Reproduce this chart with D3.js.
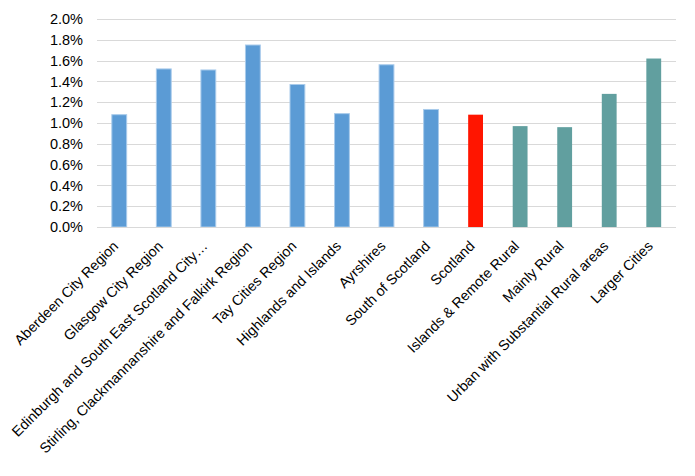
<!DOCTYPE html>
<html>
<head>
<meta charset="utf-8">
<script src="https://cdn.jsdelivr.net/npm/d3@7"></script>
<style>
  body { margin: 0; background: #fff; }
  text { font-family: "Liberation Sans", Arial, sans-serif; fill: #000; }
</style>
</head>
<body>
<div id="chart"></div>
<script>
var svgWidth = 695;
var svgHeight = 476;

var margin = { top: 19, right: 19, bottom: 249, left: 97 };
var width = svgWidth - margin.left - margin.right;
var height = svgHeight - margin.top - margin.bottom;

// data
var regions = [
  "Aberdeen City Region",
  "Glasgow City Region",
  "Edinburgh and South East Scotland City\u2026",
  "Stirling, Clackmannanshire and Falkirk Region",
  "Tay Cities Region",
  "Highlands and Islands",
  "Ayrshires",
  "South of Scotland",
  "Scotland",
  "Islands & Remote Rural",
  "Mainly Rural",
  "Urban with Substantial Rural areas",
  "Larger Cities"
];
var rates = [1.08, 1.52, 1.51, 1.75, 1.37, 1.09, 1.56, 1.13, 1.08, 0.97, 0.96, 1.28, 1.62];
var groups = ["region", "region", "region", "region", "region", "region", "region", "region",
  "scotland", "rural", "rural", "rural", "rural"];
var yTicks = [0, 0.2, 0.4, 0.6, 0.8, 1.0, 1.2, 1.4, 1.6, 1.8, 2.0];

var fillColor = { region: "#5b9bd5", scotland: "#ff1500", rural: "#619f9f" };
var strokeColor = { region: "#a9cbeb", scotland: "none", rural: "none" };

var data = regions.map((d, i) => ({ name: d, value: rates[i], group: groups[i] }));

var svg = d3
  .select("#chart")
  .append("svg")
  .attr("width", svgWidth)
  .attr("height", svgHeight);

var chartGroup = svg
  .append("g")
  .attr("transform", `translate(${margin.left}, ${margin.top})`);

var xScale = d3.scaleBand().domain(regions).range([0, width]).paddingInner(0.667).paddingOuter(0.333);
var yScale = d3.scaleLinear().domain([0, 2.0]).range([height, 0]);

// gridlines
chartGroup
  .append("g")
  .selectAll("line")
  .data(yTicks)
  .enter()
  .append("line")
  .attr("x1", 0)
  .attr("x2", width)
  .attr("y1", (d) => Math.round(yScale(d)) + 0.5)
  .attr("y2", (d) => Math.round(yScale(d)) + 0.5)
  .attr("stroke", "#d9d9d9")
  .attr("stroke-width", 1);

// y axis labels
var leftAxis = d3
  .axisLeft(yScale)
  .tickValues(yTicks)
  .tickSize(0)
  .tickPadding(14)
  .tickFormat((d) => d.toFixed(1) + "%");

var yAxis = chartGroup.append("g").call(leftAxis);
yAxis.select(".domain").remove();
yAxis.selectAll("text").style("font-size", "14.5px");

// bars
chartGroup
  .selectAll("rect")
  .data(data)
  .enter()
  .append("rect")
  .attr("x", (d) => xScale(d.name))
  .attr("y", (d) => yScale(d.value))
  .attr("width", xScale.bandwidth())
  .attr("height", (d) => height - yScale(d.value))
  .attr("fill", (d) => fillColor[d.group])
  .attr("stroke", (d) => strokeColor[d.group])
  .attr("stroke-width", 1);

// x axis
var bottomAxis = d3.axisBottom(xScale).tickSize(0).tickPadding(0);
var xAxis = chartGroup
  .append("g")
  .attr("transform", `translate(0, ${height})`)
  .call(bottomAxis);
xAxis.select(".domain").attr("stroke", "#d9d9d9").attr("d", `M0,0.5H${width}`);
xAxis
  .selectAll("text")
  .style("font-size", "14.3px")
  .attr("text-anchor", "end")
  .attr("dy", 0)
  .attr("y", 0)
  .attr("transform", "translate(0, 20) rotate(-45)");
</script>
</body>
</html>
